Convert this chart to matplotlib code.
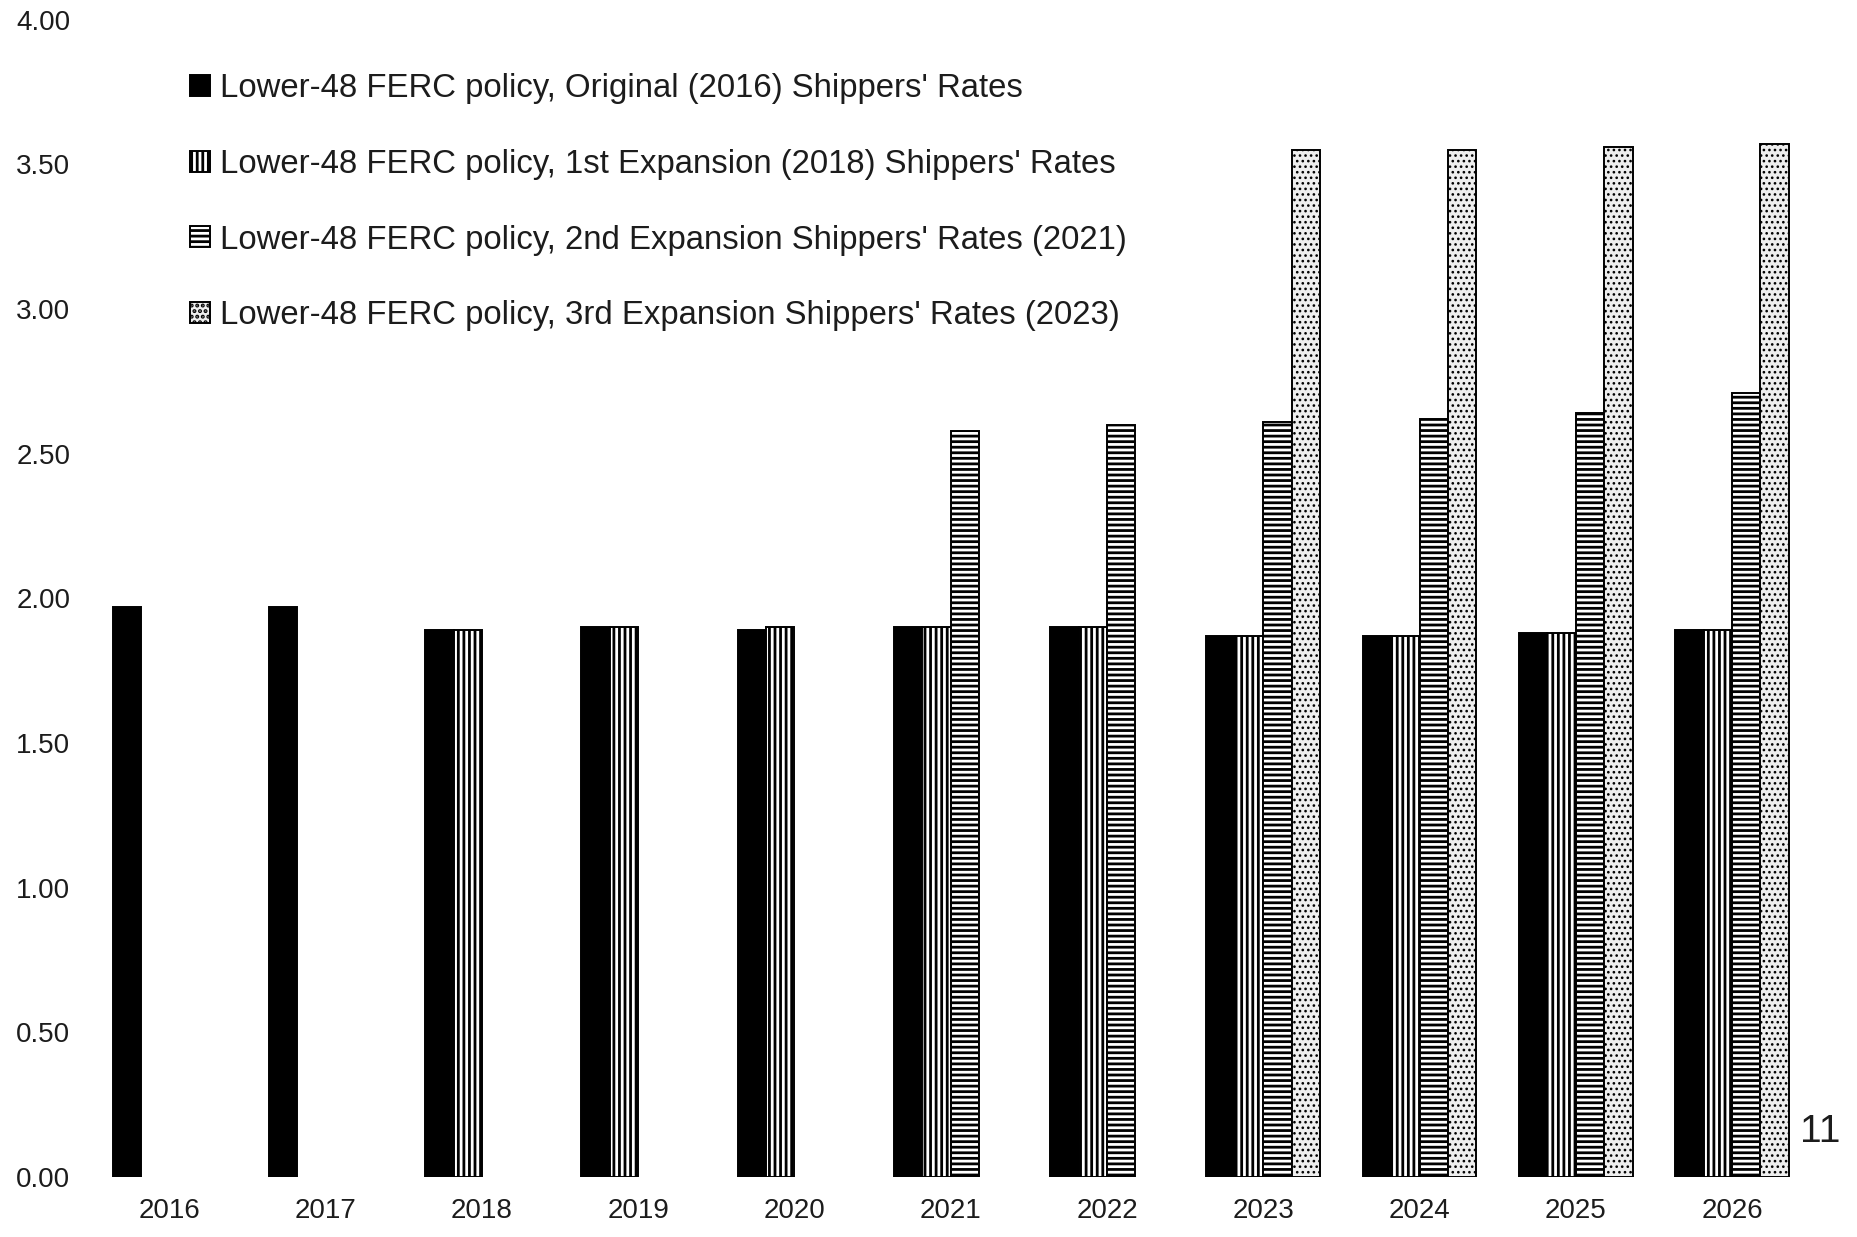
import numpy as np
import matplotlib
matplotlib.use("Agg")
import matplotlib.pyplot as plt

plt.rcParams["font.family"] = ["Liberation Sans", "DejaVu Sans"]
plt.rcParams["hatch.linewidth"] = 2.0
plt.rcParams["hatch.color"] = "black"

# ---- data ----
years = ["2016", "2017", "2018", "2019", "2020", "2021",
         "2022", "2023", "2024", "2025", "2026"]
original_2016 = [1.97, 1.97, 1.89, 1.90, 1.89, 1.90, 1.90, 1.87, 1.87, 1.88, 1.89]
expansion_1st = [np.nan, np.nan, 1.89, 1.90, 1.90, 1.90, 1.90, 1.87, 1.87, 1.88, 1.89]
expansion_2nd = [np.nan] * 5 + [2.58, 2.60, 2.61, 2.62, 2.64, 2.71]
expansion_3rd = [np.nan] * 7 + [3.55, 3.55, 3.56, 3.57]

labels = [
    "Lower-48 FERC policy, Original (2016) Shippers' Rates",
    "Lower-48 FERC policy, 1st Expansion (2018) Shippers' Rates",
    "Lower-48 FERC policy, 2nd Expansion Shippers' Rates (2021)",
    "Lower-48 FERC policy, 3rd Expansion Shippers' Rates (2023)",
]
yticks = [0.0, 0.5, 1.0, 1.5, 2.0, 2.5, 3.0, 3.5, 4.0]

TEXT = "#1c1c1c"

fig = plt.figure(figsize=(18.58, 12.37), dpi=100)
ax = fig.add_axes([0.0484, 0.0485, 1 - 0.0484, 0.984 - 0.0485])

series = [original_2016, expansion_1st, expansion_2nd, expansion_3rd]
styles = [
    dict(color="black", hatch=None, hlw=None),
    dict(color="white", hatch="|||", hlw=None),
    dict(color="white", hatch="---", hlw=None),
    dict(color="#eeeeee", hatch="...", hlw=1.1),  # fine stipple
]
w = 0.182
x = np.arange(len(years))
handles = []
for k, (vals, st) in enumerate(zip(series, styles)):
    vals = np.asarray(vals, dtype=float)
    ok = ~np.isnan(vals)
    bars = ax.bar(x[ok] + (k - 1.5) * w, vals[ok], width=w,
                  color=st["color"], hatch=st["hatch"],
                  edgecolor="black", linewidth=1.4, label=labels[k])
    if st["hlw"] is not None:
        for p in bars:
            if hasattr(p, "set_hatch_linewidth"):
                p.set_hatch_linewidth(st["hlw"])
    handles.append(bars)

ax.set_xlim(-0.509, 10.806)
ax.set_ylim(0, 4)
ax.set_xticks(x)
ax.set_xticklabels(years)
ax.set_yticks(yticks)
ax.set_yticklabels([f"{v:.2f}" for v in yticks])
ax.tick_params(axis="both", length=0, labelsize=20, colors=TEXT)
ax.tick_params(axis="y", pad=14)
ax.tick_params(axis="x", pad=15)
for s in ax.spines.values():
    s.set_visible(False)

leg = ax.legend(handles=handles, loc="upper left",
                bbox_to_anchor=(0.1023, 0.941), bbox_transform=fig.transFigure,
                frameon=False, fontsize=23.7, handlelength=0.6, handleheight=0.6,
                handletextpad=0.3, labelspacing=1.36, borderpad=0, borderaxespad=0)
for t in leg.get_texts():
    t.set_color(TEXT)

# page number
fig.text(0.969, 1 - 1132 / 1237, "11", fontsize=28, color=TEXT,
         ha="left", va="center")

fig.savefig("out.png", dpi=100)
